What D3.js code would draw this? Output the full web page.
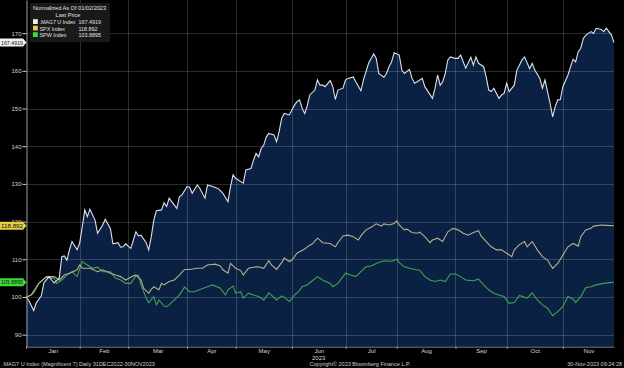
<!DOCTYPE html>
<html><head><meta charset="utf-8">
<script src="https://cdn.jsdelivr.net/npm/d3@7"></script>
<style>
html,body{margin:0;padding:0;background:#000;}
svg{display:block;font-family:"Liberation Sans",Arial,sans-serif;}
</style>
</head><body>
<svg id="c" width="624" height="368"></svg>
<script>
// x = trading-day index counted from 30 Dec 2022 (0) to 30 Nov 2023 (230)
const mag7Days = [0,1,3,4,6,7,9,11,13,14,15,16,17,18,20,21,22,23,24,25,27,28,30,31,33,34,36,37,38,39,41,42,43,44,45,47,48,49,50,51,53,54,55,56,57,59,60,61,63,64,65,67,68,70,71,73,75,76,77,79,80,81,82,84,85,86,88,89,90,91,92,93,94,95,97,98,99,100,101,103,104,105,106,107,108,109,110,111,113,114,115,116,117,119,120,121,122,124,125,126,128,129,131,132,134,135,136,137,138,140,141,142,143,144,146,147,148,150,151,152,153,155,156,159,160,161,162,163,164,165,166,168,169,170,171,172,174,175,176,177,179,180,181,182,183,185,186,187,188,189,191,192,193,194,195,197,198,199,201,202,203,204,205,206,207,208,209,210,212,213,214,215,216,217,218,219,221,222,223,225,226,227,229,230];
const mag7Values = [100.0,99.2,96.4,98.4,100.3,103.7,105.4,103.7,105.0,110.7,110.9,109.8,112.5,114.7,112.5,114.3,118.6,123.1,121.3,123.3,120.4,116.9,119.1,120.6,118.2,114.1,114.4,113.2,113.3,114.1,112.9,115.1,117.3,116.2,116.4,114.4,112.5,116.0,120.4,122.9,123.1,125.0,124.0,126.2,125.3,123.5,126.6,127.1,129.3,129.1,127.5,129.7,128.8,126.2,129.7,129.3,128.8,128.2,127.5,125.3,129.3,132.4,131.5,130.6,130.2,133.7,134.1,136.3,138.1,137.2,139.4,140.3,142.5,143.4,143.0,141.2,143.8,147.4,148.7,148.3,149.6,150.9,151.8,152.3,150.1,148.7,150.7,153.6,154.9,157.6,156.2,156.2,155.8,157.4,155.8,152.4,154.9,155.4,157.6,158.0,158.4,157.1,154.7,157.6,162.0,163.3,164.5,163.3,159.3,158.3,159.3,161.1,162.4,164.8,164.2,160.2,159.3,160.4,158.0,156.7,157.1,158.0,155.8,152.7,155.4,158.9,156.2,157.1,159.3,162.9,163.7,163.3,163.3,164.2,162.4,160.7,163.6,161.5,163.7,162.0,161.1,158.4,154.9,154.5,155.4,152.7,153.6,154.0,156.7,154.5,156.2,160.2,161.5,162.9,163.7,160.6,162.0,160.2,158.0,155.4,157.6,154.5,151.4,147.8,150.5,152.3,152.4,155.8,158.9,161.1,163.1,162.4,165.1,166.0,168.6,169.5,170.4,169.9,171.3,171.0,170.4,171.3,169.5,167.4919];

const spxDays = [0,2,5,8,11,13,15,17,20,21,22,25,28,30,33,35,37,39,42,43,45,46,48,49,50,52,53,54,56,58,60,62,64,67,69,71,74,76,77,79,80,82,84,85,87,89,91,93,95,96,98,100,101,103,104,106,107,109,110,112,114,115,116,119,121,122,124,126,128,130,131,133,135,137,139,140,142,144,145,146,148,149,151,153,154,156,158,159,161,163,165,167,169,171,173,175,177,178,180,182,184,186,188,190,191,193,195,196,198,200,202,204,206,208,210,212,214,216,217,219,221,222,225,227,230];
const spxValues = [100.0,100.5,103.6,105.4,105.4,104.5,105.8,106.3,107.2,108.5,107.6,107.6,106.7,107.2,106.3,105.8,105.4,104.5,105.6,105.8,104.5,102.3,101.0,102.0,102.7,101.9,103.6,103.2,104.1,104.5,105.8,107.3,107.3,107.6,107.6,108.5,108.7,108.2,107.2,106.3,108.9,107.6,107.0,105.8,107.6,107.9,108.0,107.6,109.6,108.5,107.3,109.1,110.3,109.4,109.8,111.6,112.0,112.7,113.3,114.1,115.6,115.1,114.4,114.2,113.3,114.4,116.2,116.4,116.0,115.1,116.2,117.8,118.5,119.4,118.8,119.4,119.1,119.5,120.2,119.1,117.8,118.0,117.1,116.9,117.2,116.0,114.4,115.1,115.6,114.7,117.3,118.2,117.8,116.9,116.4,117.1,117.6,116.2,114.7,113.3,112.5,112.5,111.6,110.7,112.5,113.9,114.7,113.3,114.7,112.5,110.7,109.8,107.6,108.9,111.1,113.3,114.2,113.5,116.0,117.8,118.2,118.8,119.1,119.0,118.892];

const spwDays = [0,1,3,5,8,11,12,14,16,18,20,22,24,26,28,30,33,35,37,39,41,43,44,45,47,48,50,51,52,54,55,56,58,60,62,64,66,68,71,73,76,78,79,81,82,84,85,87,89,91,93,95,96,98,100,101,103,105,107,108,110,112,114,116,119,120,122,124,125,127,129,131,133,135,137,139,141,143,145,146,148,150,152,154,156,158,160,162,164,166,168,170,172,175,177,179,181,183,185,187,189,191,193,196,198,200,202,204,206,208,210,212,214,215,217,219,221,223,226,228,230];
const spwValues = [100.0,100.1,101.0,103.6,105.2,105.0,103.6,104.5,105.8,106.7,105.4,109.4,108.5,107.6,107.9,106.7,106.7,105.0,104.5,103.6,103.6,105.6,105.8,103.2,99.7,98.5,100.1,97.9,99.2,97.6,97.4,97.9,99.2,100.5,102.6,101.4,101.4,102.0,102.7,103.2,102.3,100.5,101.9,102.9,101.0,101.4,99.7,101.0,100.5,100.1,99.2,101.1,100.5,99.2,100.3,99.9,98.8,100.5,101.7,102.7,103.2,104.3,105.4,104.5,103.6,102.7,103.6,105.4,106.3,105.8,105.4,106.7,108.0,108.2,108.9,109.4,109.6,109.4,110.0,109.1,108.0,107.6,107.3,107.1,105.4,104.5,104.1,104.5,104.1,106.1,106.1,105.4,104.5,104.3,104.7,103.2,101.9,101.0,100.5,100.1,98.3,98.5,100.4,99.7,101.1,99.2,97.9,97.0,95.0,96.1,97.4,100.1,99.4,98.5,100.1,102.5,102.7,103.2,103.6,103.8,103.8895];

const seriesNames = [".MAG7 U Index","SPX Index","SPW Index"];
const lastPrices = ["167.4919","118.892","103.8895"];
const yTicks = [90,100,110,120,130,140,150,160,170];
const monthLabels = ["Jan","Feb","Mar","Apr","May","Jun","Jul","Aug","Sep","Oct","Nov"];
const monthStarts = [0,21,40,63,82,104,125,145,168,188,210,230]; // trading-day index of month starts (+ end)

const svg = d3.select("#c");
const x = d3.scaleLinear().domain([0,230]).range([26,614]);
const y = d3.scaleLinear().domain([86.8,178.8]).range([346.7,0]);
const zip = (ds,vs)=>ds.map((d,i)=>({d:d,v:vs[i]}));
const mag7 = zip(mag7Days,mag7Values), spx = zip(spxDays,spxValues), spw = zip(spwDays,spwValues);

// area under MAG7
svg.append("path").datum(mag7)
  .attr("d", d3.area().x(p=>x(p.d)).y0(y(86.8)).y1(p=>y(p.v)))
  .attr("fill","#0b2143");

// gridlines
const grid = svg.append("g").attr("stroke","rgba(255,255,255,0.17)").attr("stroke-width",1);
grid.selectAll(".h").data(yTicks).join("line")
  .attr("x1",26).attr("x2",614).attr("y1",d=>Math.round(y(d))+0.5).attr("y2",d=>Math.round(y(d))+0.5);
grid.selectAll(".v").data(monthStarts.slice(1,-1)).join("line")
  .attr("x1",d=>Math.round(x(d))+0.5).attr("x2",d=>Math.round(x(d))+0.5).attr("y1",0).attr("y2",346.7);

// lines
const line = d3.line().x(p=>x(p.d)).y(p=>y(p.v));
svg.append("path").datum(spw).attr("d",line).attr("fill","none").attr("stroke","#43a152").attr("stroke-width",1.1);
svg.append("path").datum(spx).attr("d",line).attr("fill","none").attr("stroke","#b5b18e").attr("stroke-width",1.1);
svg.append("path").datum(mag7).attr("d",line).attr("fill","none").attr("stroke","#dde2ec").attr("stroke-width",1.1);

// left axis
const ya = svg.append("g").attr("transform","translate(26.5,0)")
  .call(d3.axisLeft(y).tickValues(yTicks).tickSize(4).tickSizeOuter(0).tickPadding(1));
ya.select(".domain").attr("stroke","#9a9a9a");
ya.selectAll(".tick line").attr("stroke","#cfcfcf");
ya.selectAll(".tick text").attr("fill","#d6d6d6").style("font-size","6px").style("font-family","Liberation Sans, Arial, sans-serif");

// bottom axis
const xa = svg.append("g").attr("transform","translate(0,346.7)")
  .call(d3.axisBottom(x).tickValues(monthStarts.slice(0,-1)).tickSize(2).tickSizeOuter(0).tickFormat(""));
xa.select(".domain").attr("stroke","#7a7a7a");
xa.selectAll(".tick line").attr("stroke","#bbb");
const monthMid = monthLabels.map((m,i)=>(monthStarts[i]+monthStarts[i+1])/2);
const xl = svg.append("g").attr("transform","translate(0,346.7)")
  .call(d3.axisBottom(x).tickValues(monthMid).tickSize(0).tickPadding(2).tickFormat((d,i)=>monthLabels[i]));
xl.select(".domain").remove();
xl.selectAll(".tick text").attr("fill","#d6d6d6").style("font-size","6px").style("font-family","Liberation Sans, Arial, sans-serif");
svg.append("text").attr("x",x(monthMid[5])).attr("y",359.5).attr("text-anchor","middle")
  .attr("fill","#d6d6d6").style("font-size","6px").text("2023");

// last-price tags on the left
const tagColors = ["#f2f2f2","#e3d046","#3ddc3a"];
const lastVals = [mag7Values[mag7Values.length-1], spxValues[spxValues.length-1], spwValues[spwValues.length-1]];
lastVals.forEach((v,i)=>{
  const yy = y(v);
  svg.append("path").attr("d",`M0,${yy-4} H23 L26.5,${yy} L23,${yy+4} H0 Z`).attr("fill",tagColors[i]);
  svg.append("text").attr("x",1).attr("y",yy+1.9).attr("fill","#111").style("font-size","5.2px")
    .attr("textLength",22).attr("lengthAdjust","spacingAndGlyphs").text(lastPrices[i]);
});

// legend
const lg = svg.append("g");
lg.append("rect").attr("x",30).attr("y",3).attr("width",80).attr("height",39).attr("fill","#1b1b1b").attr("opacity",0.92);
lg.append("text").attr("x",33).attr("y",10).attr("fill","#e0e0e0").style("font-size","5.6px").text("Normalized As Of 01/02/2023");
lg.append("text").attr("x",68).attr("y",17).attr("text-anchor","middle").attr("fill","#e0e0e0").style("font-size","5.6px").text("Last Price");
seriesNames.forEach((n,i)=>{
  const by = 24 + i*6.5;
  lg.append("rect").attr("x",33).attr("y",by-4.8).attr("width",4.8).attr("height",4.8).attr("fill",tagColors[i]);
  lg.append("text").attr("x",39.5).attr("y",by).attr("fill","#e0e0e0").style("font-size","5.4px")
    .attr("textLength", n.length>10 ? 36 : null).attr("lengthAdjust","spacingAndGlyphs").text(n);
  lg.append("text").attr("x",78.5).attr("y",by).attr("fill","#e0e0e0").style("font-size","5.4px").text(lastPrices[i]);
});

// footer
const ftFill = "#cfcfcf";
svg.append("text").attr("x",2).attr("y",366).attr("fill",ftFill).style("font-size","5.5px").text(".MAG7 U Index (Magnificent 7)  Daily 31DEC2022-30NOV2023");
svg.append("text").attr("x",360).attr("y",366).attr("text-anchor","middle").attr("fill",ftFill).style("font-size","5.5px").text("Copyright\u00A9 2023 Bloomberg Finance L.P.");
svg.append("text").attr("x",622).attr("y",366).attr("text-anchor","end").attr("fill",ftFill).style("font-size","5.5px").text("30-Nov-2023 09:24:28");
</script>
</body></html>
